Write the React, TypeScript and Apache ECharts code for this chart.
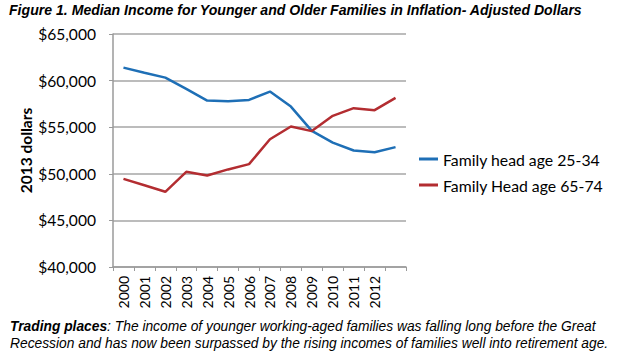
import React, { useEffect, useRef } from "react";
import * as echarts from "echarts";

const years = ["2000", "2001", "2002", "2003", "2004", "2005", "2006", "2007", "2008", "2009", "2010", "2011", "2012", "2013"];
const tickLabels = ["2000", "2001", "2002", "2003", "2004", "2005", "2006", "2007", "2008", "2009", "2010", "2011", "2012"];
const young = [61390, 60850, 60320, 59110, 57860, 57790, 57930, 58820, 57210, 54610, 53350, 52500, 52320, 52860];
const old = [49460, 48770, 48070, 50210, 49820, 50470, 51040, 53710, 55070, 54580, 56220, 57040, 56830, 58150];
const seriesNames = ["Family head age 25-34", "Family Head age 65-74"];
const title = "Figure 1. Median Income for Younger and Older Families in Inflation- Adjusted Dollars";
const captionBold = "Trading places";
const captionLine1 = ": The income of younger working-aged families was falling long before the Great";
const captionLine2 = "Recession and has now been surpassed by the rising incomes of families well into retirement age.";

export default function App() {
  const ref = useRef<HTMLDivElement>(null);
  useEffect(() => {
    if (!ref.current) return;
    const chart = echarts.init(ref.current, undefined, { renderer: "svg" });
    const font = "Lato, 'Open Sans', sans-serif";
    const arial = "'Liberation Sans', Arial, sans-serif";
    chart.setOption({
      animation: false,
      backgroundColor: "#ffffff",
      title: {
        text: title,
        left: 9,
        top: 3,
        padding: 0,
        textStyle: { fontSize: 14.1, fontWeight: "bold", fontStyle: "italic", fontFamily: arial, color: "#000" },
      },
      grid: { left: 113, right: 215, top: 34, bottom: 93, containLabel: false },
      legend: {
        orient: "vertical",
        left: 414,
        top: 146,
        itemWidth: 19,
        itemHeight: 3,
        itemGap: 10,
        icon: "rect",
        textStyle: { fontSize: 15.8, fontFamily: font, color: "#000" },
        data: seriesNames,
      },
      xAxis: {
        type: "category",
        data: years,
        boundaryGap: true,
        axisLine: { lineStyle: { color: "#9a9a9a", width: 1.5 } },
        axisTick: { show: true, length: 4, lineStyle: { color: "#9a9a9a" } },
        axisLabel: {
          rotate: 90,
          interval: 0,
          margin: 9,
          fontSize: 14,
          fontFamily: font,
          color: "#000",
          formatter: (v: string) => (tickLabels.includes(v) ? v : ""),
        },
      },
      yAxis: {
        type: "value",
        min: 40000,
        max: 65000,
        interval: 5000,
        name: "2013 dollars",
        nameLocation: "middle",
        nameGap: 79,
        nameTextStyle: { fontSize: 15.5, fontWeight: "bold", fontFamily: font, color: "#000" },
        axisLine: { show: true, lineStyle: { color: "#9a9a9a", width: 1.5 } },
        axisTick: { show: true, length: 4, lineStyle: { color: "#9a9a9a" } },
        axisLabel: {
          margin: 17,
          fontSize: 15.6,
          fontFamily: font,
          color: "#000",
          formatter: (v: number) => "$" + v.toLocaleString("en-US"),
        },
        splitLine: { show: true, lineStyle: { color: "#a6a6a6", width: 1.5 } },
      },
      series: [
        {
          name: seriesNames[0],
          type: "line",
          data: young,
          symbol: "none",
          itemStyle: { color: "#1E6FB6" },
          lineStyle: { color: "#1E6FB6", width: 2.5 },
        },
        {
          name: seriesNames[1],
          type: "line",
          data: old,
          symbol: "none",
          itemStyle: { color: "#B32D31" },
          lineStyle: { color: "#B32D31", width: 2.5 },
        },
      ],
      graphic: [
        {
          type: "text",
          left: 10,
          top: 319,
          style: {
            text: "{b|" + captionBold + "}{n|" + captionLine1 + "}\n{n|" + captionLine2 + "}",
            rich: {
              b: { fontSize: 13.8, fontWeight: "bold", fontStyle: "italic", fontFamily: arial, fill: "#000", lineHeight: 17 },
              n: { fontSize: 13.8, fontStyle: "italic", fontFamily: arial, fill: "#000", lineHeight: 17 },
            },
          },
        },
      ],
    });
    return () => chart.dispose();
  }, []);
  return <div ref={ref} style={{ position: "fixed", left: 0, top: 0, width: 621, height: 360 }} />;
}
